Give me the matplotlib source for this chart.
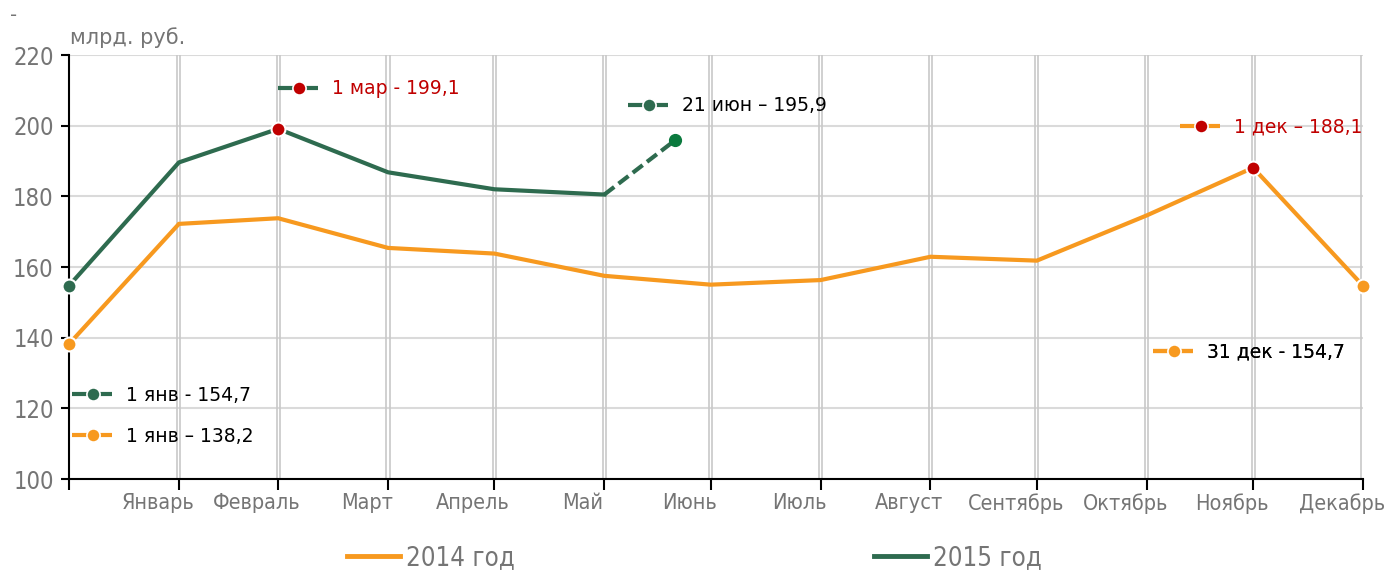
import matplotlib.pyplot as plt
from matplotlib.lines import Line2D
import numpy as np

# days from 1 Jan: start point + month ends
days = [0, 31, 59, 90, 120, 151, 181, 212, 243, 273, 304, 334, 365]
months = ['Январь', 'Февраль', 'Март', 'Апрель', 'Май', 'Июнь', 'Июль',
          'Август', 'Сентябрь', 'Октябрь', 'Ноябрь', 'Декабрь']
y2014 = [138.2, 172.2, 173.8, 165.4, 163.8, 157.5, 155.0, 156.3, 162.9, 161.8, 174.6, 188.1, 154.7]
y2015 = [154.7, 189.6, 199.1, 186.8, 182.0, 180.5]
jun21_day = 171
jun21_val = 195.9

orange = '#f7991f'
green = '#2e6b4f'
red = '#c00000'
green_pt = '#0b7a3e'
grey_txt = '#757575'

plt.rcParams['font.family'] = ['DejaVu Sans']

fig = plt.figure(figsize=(13.93, 5.70), dpi=100)
ax = fig.add_axes([69 / 1393, 91 / 570, 1294 / 1393, 424 / 570])

# grid: light horizontal, double vertical lines
for v in range(100, 221, 20):
    ax.axhline(v, color='#dadada', lw=1.5, zorder=0)
for d in days[1:]:
    ax.axvline(d - 0.45, color='#c8c8c8', lw=1.2, zorder=0)
    ax.axvline(d + 0.45, color='#c8c8c8', lw=1.2, zorder=0)

# 2014
ax.plot(days, y2014, color=orange, lw=3, solid_joinstyle='miter', zorder=3)
# 2015 solid part and dashed extension to 21 June
ax.plot(days[:6], y2015, color=green, lw=3, solid_joinstyle='miter', zorder=4)
ax.plot([days[5], jun21_day], [y2015[-1], jun21_val], color=green, lw=3,
        ls=(0, (3, 1.3)), zorder=4)

mk = dict(marker='o', ms=10, mec='white', mew=1.5, ls='none', zorder=6, clip_on=False)
ax.plot(days[0], y2014[0], mfc=orange, **mk)
ax.plot(days[11], y2014[11], mfc=red, **mk)
ax.plot(days[12], y2014[12], mfc=orange, **mk)
ax.plot(days[0], y2015[0], mfc=green, **mk)
ax.plot(days[2], y2015[2], mfc=red, **mk)
ax.plot(jun21_day, jun21_val, marker='o', ms=8.5, mfc=green_pt, mec=green_pt, ls='none', zorder=6)

ax.set_xlim(0, 365)
ax.set_ylim(100, 220)

# axes styling
for s in ['top', 'right']:
    ax.spines[s].set_visible(False)
ax.spines['left'].set_color('black')
ax.spines['bottom'].set_color('black')
ax.spines['left'].set_linewidth(1.5)
ax.spines['bottom'].set_linewidth(1.5)

ax.set_yticks(range(100, 221, 20))
ax.tick_params(axis='y', direction='out', length=6, width=1.5, colors='black',
               labelcolor=grey_txt, labelsize=17, pad=5)
ax.set_xticks(days)
ax.set_xticklabels([])
ax.tick_params(axis='x', which='major', direction='out', length=8, width=1.5)
ax.set_xticks([d - 6 for d in days[1:]], minor=True)
ax.set_xticklabels(months, minor=True)
ax.tick_params(axis='x', which='minor', length=0, labelsize=15.5, labelcolor=grey_txt, pad=10)
for lab in ax.get_xticklabels(minor=True) + ax.get_yticklabels():
    lab.set_fontstretch('condensed')

fig.text(10 / 1393, 1 - 16 / 570, '-', color=grey_txt, fontsize=14, va='center')
fig.text(70 / 1393, 1 - 38 / 570, 'млрд. руб.', color=grey_txt, fontsize=15, va='center')

# annotation keys
notes = [
    ('1 мар - 199,1', green, red, red, 0.1615, 0.92),
    ('21 июн – 195,9', green, green, 'black', 0.432, 0.88),
    ('1 дек – 188,1', orange, red, red, 0.8586, 0.83),
    ('1 янв - 154,7', green, green, 'black', 0.0023, 0.198),
    ('1 янв – 138,2', orange, orange, 'black', 0.0023, 0.101),
    ('31 дек - 154,7', orange, orange, 'black', 0.8377, 0.2995),
]
for txt, lc, mc, tc, xa, ya in notes:
    h = Line2D([], [], color=lc, lw=3, ls=(0, (4, 1.6)), marker='o', ms=9.5,
               mfc=mc, mec='white', mew=1.2)
    leg = ax.legend([h], [txt], loc='center left', bbox_to_anchor=(xa, ya),
                    frameon=False, fontsize=13.5, handlelength=2.24, handletextpad=0.64,
                    borderpad=0, borderaxespad=0, numpoints=1, labelcolor=tc)
    ax.add_artist(leg)

# bottom legend
hs = [Line2D([], [], color=orange, lw=3.5), Line2D([], [], color=green, lw=3.5)]
lg = fig.legend(hs, ['2014 год', '2015 год'], loc='center', bbox_to_anchor=(0.4986, 0.021),
                ncol=2, frameon=False, fontsize=18.5, handlelength=2.06, handletextpad=0.23,
                columnspacing=14, labelcolor=grey_txt)
for t in lg.get_texts():
    t.set_fontstretch('condensed')

fig.savefig('out.png', dpi=100)
